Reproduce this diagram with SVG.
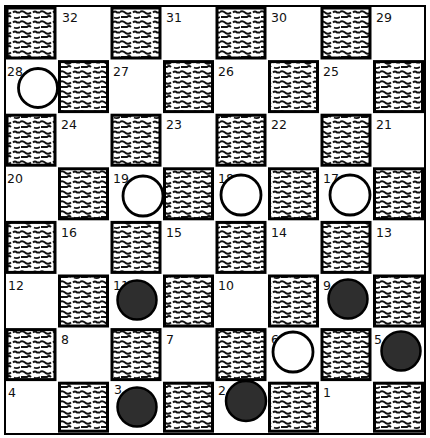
<svg xmlns="http://www.w3.org/2000/svg" width="430" height="438" viewBox="0 0 430 438">
<defs>
<pattern id="tex" patternUnits="userSpaceOnUse" width="20" height="10">
<rect width="20" height="10" fill="#fff"/>
<path d="M-1 2.5 q3 -2.5 6 0 t6 0 M13 2.5 q2 -2 4 0 l4 0" fill="none" stroke="#111" stroke-width="1.9"/>
<path d="M1 7 h6 q2 -2 4 0 M14 7.5 q3 1.5 6 -0.5" fill="none" stroke="#111" stroke-width="1.9"/>
</pattern>
</defs>
<style>
.dk{fill:url(#tex);stroke:#000;stroke-width:3}
.num{font-family:"DejaVu Sans",sans-serif;font-size:12.5px;fill:#111}
.wp{fill:#fff;stroke:#000;stroke-width:2.8}
.bp{fill:#2e2e2e;stroke:#000;stroke-width:2.5}
.border{fill:none;stroke:#000;stroke-width:2}
</style>
<rect width="430" height="438" fill="#fff"/>
<g id="board">
<rect class="border" x="5" y="6" width="420" height="428"/>
<g id="dark-squares">
<rect class="dk" x="7" y="8" width="48" height="50"/>
<rect class="dk" x="112" y="8" width="48" height="50"/>
<rect class="dk" x="217" y="8" width="48" height="50"/>
<rect class="dk" x="322" y="8" width="48" height="50"/>
<rect class="dk" x="59.5" y="61.6" width="48" height="50"/>
<rect class="dk" x="164.5" y="61.6" width="48" height="50"/>
<rect class="dk" x="269.5" y="61.6" width="48" height="50"/>
<rect class="dk" x="374.5" y="61.6" width="48" height="50"/>
<rect class="dk" x="7" y="115.2" width="48" height="50"/>
<rect class="dk" x="112" y="115.2" width="48" height="50"/>
<rect class="dk" x="217" y="115.2" width="48" height="50"/>
<rect class="dk" x="322" y="115.2" width="48" height="50"/>
<rect class="dk" x="59.5" y="168.8" width="48" height="50"/>
<rect class="dk" x="164.5" y="168.8" width="48" height="50"/>
<rect class="dk" x="269.5" y="168.8" width="48" height="50"/>
<rect class="dk" x="374.5" y="168.8" width="48" height="50"/>
<rect class="dk" x="7" y="222.4" width="48" height="50"/>
<rect class="dk" x="112" y="222.4" width="48" height="50"/>
<rect class="dk" x="217" y="222.4" width="48" height="50"/>
<rect class="dk" x="322" y="222.4" width="48" height="50"/>
<rect class="dk" x="59.5" y="276" width="48" height="50"/>
<rect class="dk" x="164.5" y="276" width="48" height="50"/>
<rect class="dk" x="269.5" y="276" width="48" height="50"/>
<rect class="dk" x="374.5" y="276" width="48" height="50"/>
<rect class="dk" x="7" y="329.6" width="48" height="50"/>
<rect class="dk" x="112" y="329.6" width="48" height="50"/>
<rect class="dk" x="217" y="329.6" width="48" height="50"/>
<rect class="dk" x="322" y="329.6" width="48" height="50"/>
<rect class="dk" x="59.5" y="383.2" width="48" height="48"/>
<rect class="dk" x="164.5" y="383.2" width="48" height="48"/>
<rect class="dk" x="269.5" y="383.2" width="48" height="48"/>
<rect class="dk" x="374.5" y="383.2" width="48" height="48"/>
</g>
</g>
<g id="numbers">
<text class="num" x="62" y="22">32</text>
<text class="num" x="166" y="22">31</text>
<text class="num" x="271" y="22">30</text>
<text class="num" x="376" y="22">29</text>
<text class="num" x="7" y="76">28</text>
<text class="num" x="113" y="76">27</text>
<text class="num" x="218" y="76">26</text>
<text class="num" x="323" y="76">25</text>
<text class="num" x="61" y="129">24</text>
<text class="num" x="166" y="129">23</text>
<text class="num" x="271" y="129">22</text>
<text class="num" x="376" y="129">21</text>
<text class="num" x="7" y="183">20</text>
<text class="num" x="113" y="183">19</text>
<text class="num" x="218" y="183">18</text>
<text class="num" x="323" y="183">17</text>
<text class="num" x="61" y="237">16</text>
<text class="num" x="166" y="237">15</text>
<text class="num" x="271" y="237">14</text>
<text class="num" x="376" y="237">13</text>
<text class="num" x="8" y="290">12</text>
<text class="num" x="113" y="290">11</text>
<text class="num" x="218" y="290">10</text>
<text class="num" x="323" y="290">9</text>
<text class="num" x="61" y="344">8</text>
<text class="num" x="166" y="344">7</text>
<text class="num" x="271" y="344">6</text>
<text class="num" x="374" y="344">5</text>
<text class="num" x="8" y="397">4</text>
<text class="num" x="114" y="394">3</text>
<text class="num" x="218" y="395">2</text>
<text class="num" x="323" y="397">1</text>
</g>
<g id="pieces">
<g id="piece-28"><circle class="wp" cx="38" cy="88" r="19.5"/></g>
<g id="piece-19"><circle class="wp" cx="143" cy="196" r="20"/></g>
<g id="piece-18"><circle class="wp" cx="241" cy="195" r="20"/></g>
<g id="piece-17"><circle class="wp" cx="350" cy="195" r="20"/></g>
<g id="piece-6"><circle class="wp" cx="293" cy="352" r="20"/></g>
<g id="piece-11"><circle class="bp" cx="137" cy="300" r="19.5"/></g>
<g id="piece-9"><circle class="bp" cx="348" cy="299" r="19.5"/></g>
<g id="piece-5"><circle class="bp" cx="401" cy="351" r="19.5"/></g>
<g id="piece-3"><circle class="bp" cx="137" cy="407" r="19.5"/></g>
<g id="piece-2"><circle class="bp" cx="246" cy="401" r="20"/></g>
</g>
</svg>
